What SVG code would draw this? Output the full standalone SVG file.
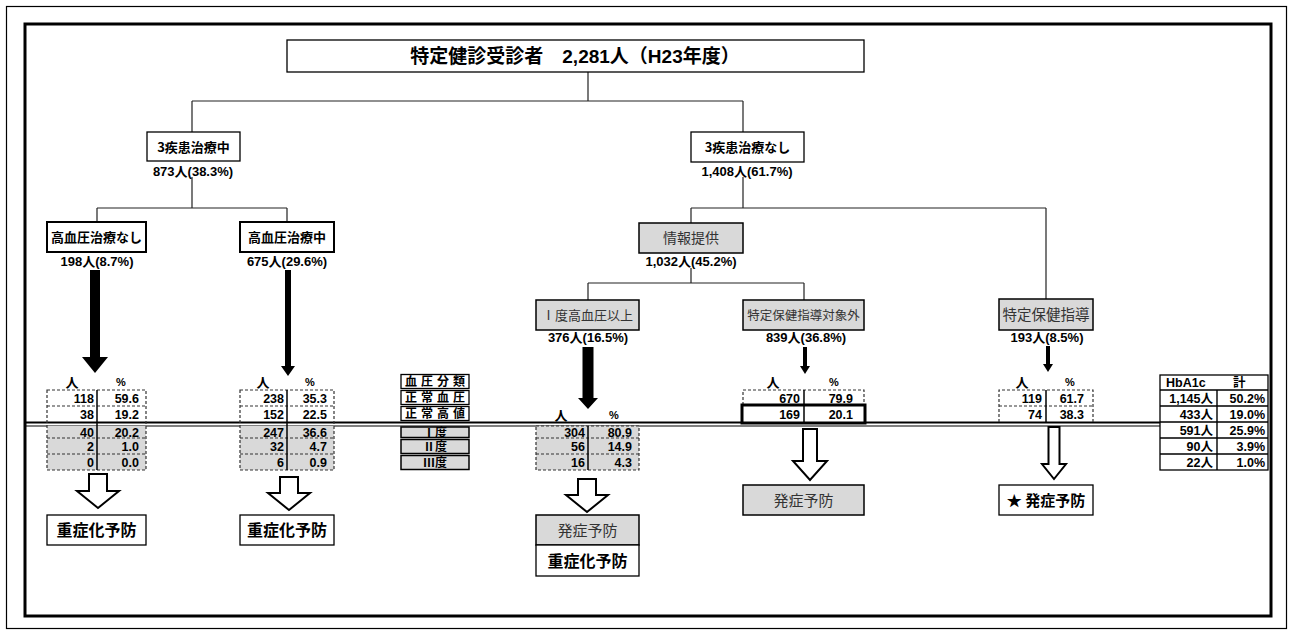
<svg xmlns="http://www.w3.org/2000/svg" width="1294" height="634" viewBox="0 0 1294 634">
<style>
.bx{fill:#fff;stroke:#000;stroke-width:1.3}
.bx2{fill:#fff;stroke:#000;stroke-width:2}
.gb{fill:#d9d9d9;stroke:#000;stroke-width:1.5}
.t{font-family:"Noto Sans CJK JP","Liberation Sans",sans-serif;font-weight:bold;fill:#000}
.n{font-family:"Liberation Sans","Noto Sans CJK JP",sans-serif;font-weight:bold;fill:#000}
.g{font-family:"Noto Sans CJK JP","Liberation Sans",sans-serif;font-weight:normal;fill:#333}
.m{text-anchor:middle}
.e{text-anchor:end}
.ln{stroke:#222;stroke-width:1.2;fill:none}
.ds{stroke:#333;stroke-width:1.2;stroke-dasharray:3 2;fill:none}
.dv{stroke:#000;stroke-width:1.5}
.gr{fill:#d9d9d9}
.sa{fill:#000}
.ha{fill:#fff;stroke:#000;stroke-width:2;stroke-linejoin:miter}
.tn{font-size:12.5px}
</style>
<rect x="6.5" y="6.5" width="1280" height="622" fill="#fff" stroke="#000" stroke-width="1.2"/>
<rect x="25" y="24" width="1246" height="592" fill="none" stroke="#000" stroke-width="3"/>

<g id="connectors">
<path class="ln" d="M588,72V101M192,101H743M192,101V132M743,101V132"/>
<path class="ln" d="M192,177V208M97,208H287M97,208V222M287,208V222"/>
<path class="ln" d="M743,177V208M691,208H1046M691,208V223M1046,208V299"/>
<path class="ln" d="M691,268V283M588,283H804M588,283V300M804,283V300"/>
<path class="sa" d="M90,270H100V357H108L95,373L82,357H90Z"/>
<path class="sa" d="M285,270H291V366H295L288,376L281,366H285Z"/>
<path class="sa" d="M582.5,347H593.5V398H598L588,409L578,398H582.5Z"/>
<path class="sa" d="M803,347H807V366H810L805,374L800,366H803Z"/>
<path class="sa" d="M1046,346H1050V364H1053L1048,372L1043,364H1046Z"/>
<line x1="25" y1="422.5" x2="1160" y2="422.5" stroke="#000" stroke-width="2"/>
<line x1="25" y1="426" x2="1160" y2="426" stroke="#000" stroke-width="1.2"/>
<path class="ha" d="M89,474H107V491H119L98,508L77,491H89Z"/>
<path class="ha" d="M280,477H298V493H310L289,510L268,493H280Z"/>
<path class="ha" d="M578,479H596V495H608L587,512L566,495H578Z"/>
<path class="ha" d="M803,429H817V461H827L810,480L793,461H803Z"/>
<path class="ha" d="M1048.5,427H1059.5V464H1066L1054,479L1042,464H1048.5Z"/>
</g>

<g id="title">
<rect class="bx" x="287" y="40" width="577" height="32"/>
<text class="t m" x="575" y="63" font-size="19">特定健診受診者　<tspan class="n">2,281</tspan>人（<tspan class="n">H23</tspan>年度）</text>
</g>

<g id="n-shikkan-chiryo">
<rect class="bx" x="147" y="132" width="93" height="29"/>
<text class="t m" x="193.5" y="151.5" font-size="13">3疾患治療中</text>
<text class="n m" x="193" y="175.5" font-size="13">873人(38.3%)</text>
</g>

<g id="n-shikkan-nashi">
<rect class="bx" x="691" y="132" width="113" height="30"/>
<text class="t m" x="747.5" y="152" font-size="13">3疾患治療なし</text>
<text class="n m" x="747" y="175.5" font-size="13">1,408人(61.7%)</text>
</g>

<g id="n-koketsuatsu-nashi">
<rect class="bx2" x="47" y="222" width="99" height="30"/>
<text class="t m" x="96.5" y="242" font-size="13">高血圧治療なし</text>
<text class="n m" x="97" y="266" font-size="13">198人(8.7%)</text>
</g>

<g id="n-koketsuatsu-chu">
<rect class="bx2" x="240" y="222" width="94" height="30"/>
<text class="t m" x="287" y="242" font-size="13">高血圧治療中</text>
<text class="n m" x="287" y="266" font-size="13">675人(29.6%)</text>
</g>

<g id="n-joho">
<rect class="gb" x="639" y="223" width="104" height="30"/>
<text class="g m" x="691" y="243" font-size="14">情報提供</text>
<text class="n m" x="691" y="266" font-size="13">1,032人(45.2%)</text>
</g>

<g id="n-1do">
<rect class="gb" x="536" y="300" width="103" height="30"/>
<text class="g m" x="587.5" y="320" font-size="13">Ⅰ度高血圧以上</text>
<text class="n m" x="588" y="342" font-size="13">376人(16.5%)</text>
</g>

<g id="n-taishogai">
<rect class="gb" x="743" y="300" width="121" height="30"/>
<text class="g m" x="803.5" y="320" font-size="12.5">特定保健指導対象外</text>
<text class="n m" x="806" y="342" font-size="13">839人(36.8%)</text>
</g>

<g id="n-hokenshido">
<rect class="gb" x="999" y="299" width="94" height="31"/>
<text class="g m" x="1046" y="320" font-size="14.5">特定保健指導</text>
<text class="n m" x="1047" y="342" font-size="13">193人(8.5%)</text>
</g>

<g id="table1">
<rect class="gr" x="47" y="426" width="99" height="44"/>
<rect class="ds" x="47" y="390" width="99" height="80"/>
<path class="ds" d="M47,406H146M47,438H146M47,454H146"/>
<line class="dv" x1="97" y1="390" x2="97" y2="470"/>
<text class="t m" x="72" y="387" font-size="13">人</text>
<text class="n m" x="121" y="386" font-size="11">%</text>
<g class="n e tn">
<text x="94" y="402.5">118</text><text x="139" y="402.5">59.6</text>
<text x="94" y="418.5">38</text><text x="139" y="418.5">19.2</text>
<text x="94" y="436.5">40</text><text x="139" y="436.5">20.2</text>
<text x="94" y="450.5">2</text><text x="139" y="450.5">1.0</text>
<text x="94" y="466.5">0</text><text x="139" y="466.5">0.0</text>
</g>
</g>

<g id="table2">
<rect class="gr" x="240" y="426" width="94" height="44"/>
<rect class="ds" x="240" y="390" width="94" height="80"/>
<path class="ds" d="M240,406H334M240,438H334M240,454H334"/>
<line class="dv" x1="287" y1="390" x2="287" y2="470"/>
<text class="t m" x="263" y="387" font-size="13">人</text>
<text class="n m" x="310" y="386" font-size="11">%</text>
<g class="n e tn">
<text x="284" y="402.5">238</text><text x="327" y="402.5">35.3</text>
<text x="284" y="418.5">152</text><text x="327" y="418.5">22.5</text>
<text x="284" y="436.5">247</text><text x="327" y="436.5">36.6</text>
<text x="284" y="450.5">32</text><text x="327" y="450.5">4.7</text>
<text x="284" y="466.5">6</text><text x="327" y="466.5">0.9</text>
</g>
</g>

<g id="bp-class">
<rect class="bx" x="401" y="374.5" width="68" height="14"/>
<rect class="bx" x="401" y="390.5" width="68" height="14"/>
<rect class="bx" x="401" y="406.5" width="68" height="14"/>
<rect class="gb" x="401" y="427" width="68" height="10.5"/>
<rect class="gb" x="401" y="439.5" width="68" height="14"/>
<rect class="gb" x="401" y="455.5" width="68" height="14"/>
<g class="t m" font-size="12">
<text x="435" y="386" textLength="60" lengthAdjust="spacing">血圧分類</text>
<text x="435" y="402" textLength="60" lengthAdjust="spacing">正常血圧</text>
<text x="435" y="418" textLength="60" lengthAdjust="spacing">正常高値</text>
<text x="435" y="436.5">Ⅰ度</text>
<text x="435" y="451">Ⅱ度</text>
<text x="435" y="467">Ⅲ度</text>
</g>
</g>

<g id="table3">
<rect class="gr" x="536" y="426" width="103" height="44"/>
<rect class="ds" x="536" y="426" width="103" height="44"/>
<path class="ds" d="M536,438H639M536,454H639"/>
<line class="dv" x1="588" y1="426" x2="588" y2="470"/>
<text class="t m" x="561" y="420" font-size="13">人</text>
<text class="n m" x="614" y="419" font-size="11">%</text>
<g class="n e tn">
<text x="585" y="436.5">304</text><text x="632" y="436.5">80.9</text>
<text x="585" y="450.5">56</text><text x="632" y="450.5">14.9</text>
<text x="585" y="466.5">16</text><text x="632" y="466.5">4.3</text>
</g>
</g>

<g id="table4">
<path class="ds" d="M743,405V390H864V405"/>
<rect x="742" y="405" width="123" height="18" fill="#fff" stroke="#000" stroke-width="3"/>
<line class="dv" x1="804" y1="390" x2="804" y2="423"/>
<text class="t m" x="773" y="387" font-size="13">人</text>
<text class="n m" x="834" y="386" font-size="11">%</text>
<g class="n e tn">
<text x="800" y="402.5">670</text><text x="853" y="402.5">79.9</text>
<text x="800" y="418.5">169</text><text x="853" y="418.5">20.1</text>
</g>
</g>

<g id="table5">
<path class="ds" d="M999,422V390H1093V422M999,406H1093"/>
<line class="dv" x1="1046" y1="390" x2="1046" y2="422"/>
<text class="t m" x="1022" y="387" font-size="13">人</text>
<text class="n m" x="1070" y="386" font-size="11">%</text>
<g class="n e tn">
<text x="1042" y="402.5">119</text><text x="1084" y="402.5">61.7</text>
<text x="1042" y="418.5">74</text><text x="1084" y="418.5">38.3</text>
</g>
</g>

<g id="hba1c">
<rect class="bx" x="1160" y="375" width="108" height="95" stroke-width="1.6"/>
<path stroke="#000" stroke-width="1.4" d="M1160,390H1268M1160,406H1268M1160,422H1268M1160,438H1268M1160,454H1268M1217,390V470"/>
<text class="n" x="1166" y="387" font-size="12.5">HbA1c</text>
<text class="t" x="1233" y="387" font-size="12.5">計</text>
<g class="n e" font-size="12.5">
<text x="1213" y="402.5">1,145人</text><text x="1265" y="402.5">50.2%</text>
<text x="1213" y="418.5">433人</text><text x="1265" y="418.5">19.0%</text>
<text x="1213" y="434.5">591人</text><text x="1265" y="434.5">25.9%</text>
<text x="1213" y="450.5">90人</text><text x="1265" y="450.5">3.9%</text>
<text x="1213" y="466.5">22人</text><text x="1265" y="466.5">1.0%</text>
</g>
</g>

<g id="r-jusho1">
<rect class="bx" x="47" y="515" width="99" height="30"/>
<text class="t m" x="96.5" y="536" font-size="16">重症化予防</text>
</g>

<g id="r-jusho2">
<rect class="bx" x="240" y="515" width="94" height="30"/>
<text class="t m" x="287" y="536" font-size="16">重症化予防</text>
</g>

<g id="r-hassho-jusho">
<rect class="gb" x="536" y="515" width="103" height="30"/>
<text class="g m" x="587.5" y="536" font-size="15">発症予防</text>
<rect class="bx" x="536" y="545" width="103" height="31"/>
<text class="t m" x="587.5" y="567" font-size="16">重症化予防</text>
</g>

<g id="r-hassho1">
<rect class="gb" x="743" y="485" width="121" height="30"/>
<text class="g m" x="803.5" y="506" font-size="15">発症予防</text>
</g>

<g id="r-hassho2">
<rect class="bx" x="999" y="485" width="94" height="30"/>
<text class="t m" x="1046" y="506" font-size="15">★ 発症予防</text>
</g>
</svg>
